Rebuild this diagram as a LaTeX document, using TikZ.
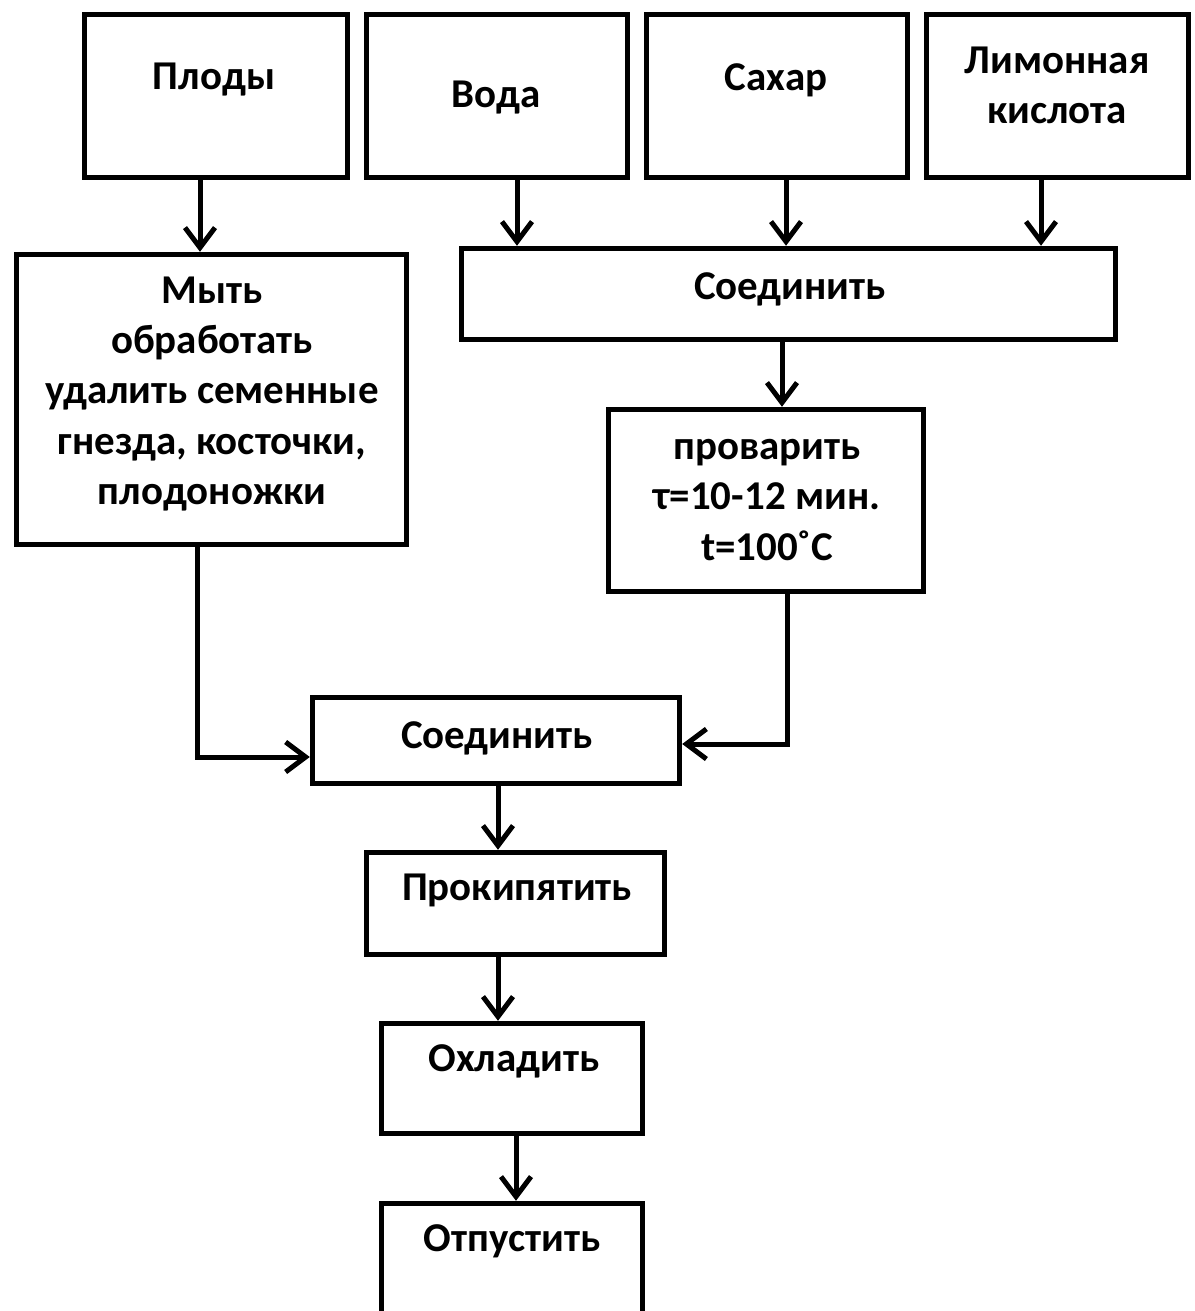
\documentclass[tikz,border=0pt]{standalone}
\usepackage{fontspec}
\setmainfont{Carlito}
\usetikzlibrary{positioning,arrows.meta}

\begin{document}
\begin{tikzpicture}[x=0.02cm, y=-0.02cm,
box/.style={rectangle, draw=black, line width=0.11cm, fill=white, inner sep=0pt},
txt/.style={align=center, font=\fontsize{23.3}{28.5}\selectfont\bfseries, inner sep=0pt},
arr/.style={-{Straight Barb[length=0.4cm, width=0.6cm]}, line width=0.1cm},
]
\useasboundingbox (0,0) rectangle (1194,1311);
%Nodes
\node[box, minimum width=5.26cm, minimum height=3.26cm]  (plody)   at (216,96)     {};
\node[box, minimum width=5.22cm, minimum height=3.26cm]  (voda)    at (497,96)     {};
\node[box, minimum width=5.22cm, minimum height=3.26cm]  (sakhar)  at (777,96)     {};
\node[box, minimum width=5.24cm, minimum height=3.26cm]  (limon)   at (1057.5,96)  {};
\node[box, minimum width=7.8cm,  minimum height=5.8cm]   (myt)     at (211.5,399.5) {};
\node[box, minimum width=13.08cm, minimum height=1.82cm] (soed1)   at (788.5,294)  {};
\node[box, minimum width=6.3cm,  minimum height=3.64cm]  (provar)  at (766,500.5)  {};
\node[box, minimum width=7.34cm, minimum height=1.72cm]  (soed2)   at (496,740.5)  {};
\node[box, minimum width=5.96cm, minimum height=2.04cm]  (prokip)  at (515.5,903.5) {};
\node[box, minimum width=5.22cm, minimum height=2.2cm]   (okhl)    at (512,1078.5) {};
\node[box, minimum width=5.22cm, minimum height=4cm]     (otpust)  at (512,1303.5) {};

%Texts
\node[txt] (plodyT)  at (214,80)    {Плоды};
\node[txt] (vodaT)   at (496,98)    {Вода};
\node[txt] (sakharT) at (776,80)    {Сахар};
\node[txt] (limonT)  at (1057,85)   {Лимонная\\кислота};
\node[txt] (mytT)    at (212,394)   {Мыть\\обработать\\удалить семенные\\гнезда, косточки,\\плодоножки};
\node[txt] (soed1T)  at (790,289)   {Соединить};
\node[txt] (provarT) at (767,500)   {проварить\\τ=10-12 мин.\\t=100˚C};
\node[txt] (soed2T)  at (497,738)   {Соединить};
\node[txt] (prokipT) at (517,890)   {Прокипятить};
\node[txt] (okhlT)   at (514,1061)  {Охладить};
\node[txt] (otpustT) at (512,1241)  {Отпустить};

%Lines
\draw[arr] ([xshift=-0.32cm]plody.south) -- ([xshift=-0.32cm]plody.south |- myt.north);
\draw[arr] ([xshift=0.4cm]voda.south) -- ([xshift=0.4cm]voda.south |- soed1.north);
\draw[arr] ([xshift=0.18cm]sakhar.south) -- ([xshift=0.18cm]sakhar.south |- soed1.north);
\draw[arr] ([xshift=-0.33cm]limon.south) -- ([xshift=-0.33cm]limon.south |- soed1.north);
\draw[arr] ([xshift=-0.13cm]soed1.south) -- ([xshift=-0.13cm]soed1.south |- provar.north);
\draw[arr] ([xshift=-0.29cm]myt.south) |- ([yshift=-0.33cm]soed2.west);
\draw[arr] ([xshift=0.42cm]provar.south) |- ([yshift=-0.07cm]soed2.east);
\draw[arr] ([xshift=0.04cm]soed2.south) -- ([xshift=0.04cm]soed2.south |- prokip.north);
\draw[arr] ([xshift=-0.35cm]prokip.south) -- ([xshift=-0.35cm]prokip.south |- okhl.north);
\draw[arr] ([xshift=0.08cm]okhl.south) -- ([xshift=0.08cm]okhl.south |- otpust.north);
\end{tikzpicture}
\end{document}
